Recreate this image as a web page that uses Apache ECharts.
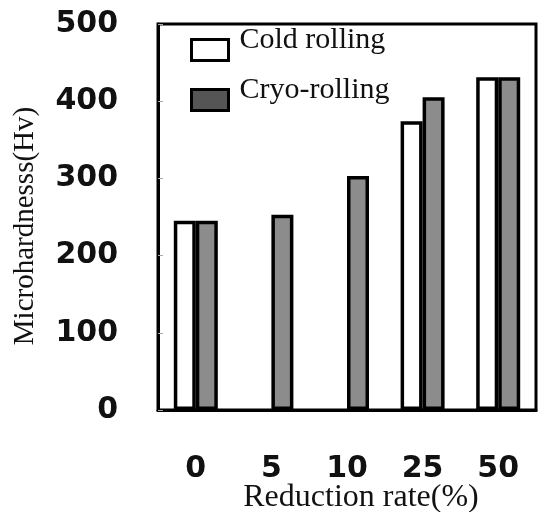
<!DOCTYPE html>
<html><head><meta charset="utf-8">
<script src="https://cdn.jsdelivr.net/npm/echarts@6/dist/echarts.min.js"></script>
<style>html,body{margin:0;padding:0;background:#fff}#c{width:538px;height:512px}</style>
</head><body><div id="c"></div>
<script>
const categories = ['0', '5', '10', '25', '50'];
const coldRolling = [245, null, null, 374, 431];
const cryoRolling = [245, 253, 303, 405, 431];
const yTicks = [0, 100, 200, 300, 400, 500];
const seriesNames = ['Cold rolling', 'Cryo-rolling'];
const xTitle = 'Reduction rate(%)';
const yTitle = 'Microhardnesss(Hv)';

const chart = echarts.init(document.getElementById('c'), null, {renderer: 'canvas'});
const serif = '"Liberation Serif", "Times New Roman", serif';
const sans = '"DejaVu Sans", sans-serif';
chart.setOption({
  animation: false,
  backgroundColor: '#fff',
  grid: {left: 158, right: 2, top: 24, bottom: 102, show: true, borderColor: '#000', borderWidth: 3, backgroundColor: 'transparent'},
  legend: {
    orient: 'vertical', left: 185, top: 20, itemWidth: 37, itemHeight: 21, itemGap: 0,
    formatter: function (name) { return name + '\n '; },
    textStyle: {fontFamily: serif, fontSize: 30, lineHeight: 20, color: '#111', padding: [0, 0, 0, 6]},
    data: [
      {name: seriesNames[0], icon: 'rect', itemStyle: {color: '#fff', borderColor: '#000', borderWidth: 3}},
      {name: seriesNames[1], icon: 'rect', itemStyle: {color: '#555', borderColor: '#000', borderWidth: 3}}
    ]
  },
  xAxis: {
    type: 'category', data: categories,
    axisLine: {lineStyle: {color: '#000', width: 3}},
    axisTick: {inside: true, length: 7, lineStyle: {color: '#aaa', width: 1}},
    axisLabel: {margin: 44, fontFamily: sans, fontWeight: 'bold', fontSize: 30, color: '#111'}
  },
  yAxis: {
    type: 'value', min: yTicks[0], max: yTicks[yTicks.length - 1], interval: 100,
    axisLine: {show: true, lineStyle: {color: '#000', width: 3}},
    axisTick: {show: true, inside: true, length: 5, lineStyle: {color: '#aaa', width: 1}},
    splitLine: {show: false},
    axisLabel: {margin: 40, fontFamily: sans, fontWeight: 'bold', fontSize: 30, color: '#111'}
  },
  series: [
    {name: seriesNames[0], type: 'bar', data: coldRolling, barWidth: 22, barGap: '0%',
     itemStyle: {color: '#fff', borderColor: '#000', borderWidth: 3.5}},
    {name: seriesNames[1], type: 'bar', data: cryoRolling, barWidth: 22,
     itemStyle: {color: '#8c8c8c', borderColor: '#000', borderWidth: 3.5}}
  ],
  graphic: [
    {type: 'text', x: 361, y: 498, style: {text: xTitle, font: '32px ' + serif, fill: '#111', textAlign: 'center', textVerticalAlign: 'middle'}},
    {type: 'text', x: 25, y: 226, rotation: Math.PI / 2, style: {text: yTitle, font: '29px ' + serif, fill: '#111', textAlign: 'center', textVerticalAlign: 'middle'}}
  ]
});
</script></body></html>
